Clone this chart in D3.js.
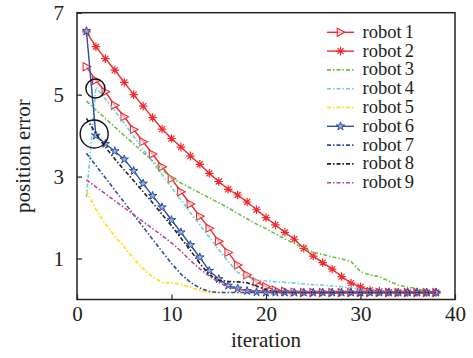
<!DOCTYPE html>
<html><head><meta charset="utf-8">
<script src="https://cdn.jsdelivr.net/npm/d3@7"></script>
<style>body{margin:0;background:#fff}svg{display:block}</style>
</head><body><svg id="c" width="473" height="358"></svg>
<script>
const iterations = [1,2,3,4,5,6,7,8,9,10,11,12,13,14,15,16,17,18,19,20,21,22,23,24,25,26,27,28,29,30,31,32,33,34,35,36,37,38];
const robot1 = [5.68,5.35,5.07,4.74,4.46,4.15,3.85,3.55,3.24,2.95,2.63,2.33,2.03,1.74,1.42,1.15,0.84,0.6,0.43,0.31,0.23,0.2,0.18,0.17,0.17,0.17,0.17,0.17,0.17,0.17,0.17,0.17,0.17,0.17,0.17,0.17,0.17,0.17];
const robot2 = [6.53,6.17,5.88,5.6,5.3,5.0,4.72,4.44,4.16,3.93,3.72,3.5,3.3,3.08,2.88,2.69,2.55,2.38,2.19,2.0,1.82,1.64,1.47,1.25,1.06,0.9,0.74,0.56,0.4,0.31,0.23,0.2,0.18,0.17,0.17,0.17,0.17,0.17];
const robot3 = [4.84,4.63,4.42,4.21,4.0,3.8,3.59,3.38,3.17,2.97,2.84,2.72,2.6,2.48,2.36,2.24,2.1,1.97,1.84,1.73,1.6,1.48,1.37,1.25,1.15,1.1,1.04,0.99,0.93,0.68,0.6,0.56,0.45,0.35,0.3,0.27,0.19,0.17];
const robot4 = [2.5,5.18,4.9,4.6,4.3,3.98,3.67,3.36,3.05,2.74,2.43,2.12,1.82,1.52,1.22,0.93,0.66,0.55,0.48,0.45,0.43,0.42,0.4,0.38,0.36,0.35,0.33,0.31,0.28,0.25,0.22,0.2,0.19,0.18,0.17,0.17,0.17,0.17];
const robot5 = [2.65,2.2,1.85,1.55,1.28,1.0,0.75,0.55,0.42,0.4,0.37,0.3,0.22,0.17,0.17,0.17,0.17,0.17,0.17,0.17,0.17,0.17,0.17,0.17,0.17,0.17,0.17,0.17,0.17,0.17,0.17,0.17,0.17,0.17,0.17,0.17,0.17,0.17];
const robot6 = [6.55,4.0,3.8,3.62,3.42,3.14,2.83,2.53,2.25,1.94,1.64,1.33,1.03,0.7,0.5,0.34,0.27,0.21,0.18,0.17,0.17,0.17,0.17,0.17,0.17,0.17,0.17,0.17,0.17,0.17,0.17,0.17,0.17,0.17,0.17,0.17,0.17,0.17];
const robot7 = [3.57,3.27,2.97,2.67,2.37,2.07,1.77,1.47,1.17,0.88,0.62,0.42,0.28,0.2,0.17,0.17,0.17,0.17,0.17,0.17,0.17,0.17,0.17,0.17,0.17,0.17,0.17,0.17,0.17,0.17,0.17,0.17,0.17,0.17,0.17,0.17,0.17,0.17];
const robot8 = [4.42,4.05,3.72,3.43,3.16,2.9,2.63,2.36,2.08,1.8,1.5,1.2,0.88,0.6,0.47,0.44,0.43,0.41,0.33,0.24,0.19,0.17,0.17,0.17,0.17,0.17,0.17,0.17,0.17,0.17,0.17,0.17,0.17,0.17,0.17,0.17,0.17,0.17];
const robot9 = [2.92,2.75,2.58,2.41,2.24,2.07,1.9,1.73,1.56,1.38,1.18,0.95,0.75,0.57,0.42,0.3,0.25,0.22,0.2,0.19,0.19,0.19,0.19,0.19,0.19,0.19,0.19,0.19,0.19,0.19,0.19,0.19,0.19,0.19,0.19,0.19,0.19,0.19];
const seriesNames = ["robot 1","robot 2","robot 3","robot 4","robot 5","robot 6","robot 7","robot 8","robot 9"];
const xTicks = [0,10,20,30,40];
const yTicks = [1,3,5,7];
const circleMarks = [[1.95,5.15,9.5],[1.82,4.04,14]];

const colors = ["#ee2b2f","#ee2b2f","#6cbf45","#6ccfdc","#fde000","#2c4ea3","#2c4ea3","#222222","#b8489d"];
const markers = ["tri","ast",null,null,null,"star",null,null,null];
const dashes = [null,null,"4,2,1.5,2","4,2,1.5,2","4,2,1.5,2",null,"4,2,1.5,2","4,2,1.5,2","4,2,1.5,2"];
const data = [robot1,robot2,robot3,robot4,robot5,robot6,robot7,robot8,robot9];
const FONT = "'Liberation Serif','Times New Roman',Times,serif";

const svg = d3.select("#c");
const m = {l:77,t:12.7,r:455,b:299.5};
const x = d3.scaleLinear().domain([0,40]).range([m.l,m.r]);
const y = d3.scaleLinear().domain([0,7]).range([m.b,m.t]);

function markerPath(type){
  if(type==="tri") return "M-3.3,-4L4.3,0L-3.3,4Z";
  if(type==="ast") return "M-4.3,0L4.3,0M0,-4.3L0,4.3M-3,-3L3,3M-3,3L3,-3";
  if(type==="star") return d3.symbol(d3.symbolStar,22)();
}
function drawMarker(g,type,col){
  if(type==="tri") g.append("path").attr("d",markerPath(type)).attr("fill","#fff").attr("fill-opacity",0.6).attr("stroke",col).attr("stroke-width",1.1);
  if(type==="ast") g.append("path").attr("d",markerPath(type)).attr("fill","none").attr("stroke",col).attr("stroke-width",1.2);
  if(type==="star") g.append("path").attr("d",markerPath(type)).attr("fill","#9ab2e0").attr("stroke",col).attr("stroke-width",1);
}

const line = d3.line().x((d,i)=>x(iterations[i])).y(d=>y(d));
const plot = svg.append("g");
data.forEach((vals,k)=>{
  const p = plot.append("path").attr("d",line(vals)).attr("fill","none").attr("stroke",colors[k]).attr("stroke-width",1.4);
  if(dashes[k]) p.attr("stroke-dasharray",dashes[k]).attr("stroke-width",1.6);
  if(markers[k]){
    vals.forEach((v,i)=>{
      const g = plot.append("g").attr("transform",`translate(${x(iterations[i])},${y(v)})`);
      drawMarker(g,markers[k],colors[k]);
    });
  }
});

circleMarks.forEach(c=>{
  svg.append("circle").attr("cx",x(c[0])).attr("cy",y(c[1])).attr("r",c[2]).attr("fill","none").attr("stroke","#111").attr("stroke-width",1.4);
});

svg.append("rect").attr("x",m.l).attr("y",m.t).attr("width",m.r-m.l).attr("height",m.b-m.t).attr("fill","none").attr("stroke","#222").attr("stroke-width",1.5);

const xAxis = d3.axisBottom(x).tickValues(xTicks).tickFormat(d3.format("d")).tickSizeInner(-5).tickSizeOuter(0).tickPadding(7);
const gx = svg.append("g").attr("transform",`translate(0,${m.b})`).call(xAxis);
gx.select(".domain").remove();
gx.selectAll("line").attr("stroke","#222").attr("stroke-width",1.2);
gx.selectAll("text").style("font-family",FONT).style("font-size","21px").attr("fill","#222");
const yAxis = d3.axisLeft(y).tickValues(yTicks).tickFormat(d3.format("d")).tickSizeInner(-5).tickSizeOuter(0).tickPadding(13);
const gy = svg.append("g").attr("transform",`translate(${m.l},0)`).call(yAxis);
gy.select(".domain").remove();
gy.selectAll("line").attr("stroke","#222").attr("stroke-width",1.2);
gy.selectAll("text").style("font-family",FONT).style("font-size","21px").attr("fill","#222");

svg.append("text").attr("x",(m.l+m.r)/2).attr("y",347).attr("text-anchor","middle").style("font-family",FONT).style("font-size","21px").attr("fill","#222").text("iteration");
svg.append("text").attr("transform",`translate(30,${(m.t+m.b)/2}) rotate(-90)`).attr("text-anchor","middle").style("font-family",FONT).style("font-size","21px").attr("fill","#222").text("position error");

const lg = svg.append("g");
seriesNames.forEach((n,k)=>{
  const yy = 32.3 + k*18.8;
  const l = lg.append("line").attr("x1",327).attr("x2",354).attr("y1",yy).attr("y2",yy).attr("stroke",colors[k]).attr("stroke-width",1.4);
  if(dashes[k]) l.attr("stroke-dasharray",dashes[k]).attr("stroke-width",1.6);
  if(markers[k]){ const g = lg.append("g").attr("transform",`translate(340.5,${yy})`); drawMarker(g,markers[k],colors[k]); }
  lg.append("text").attr("x",362.5).attr("y",yy+5.5).style("font-family",FONT).style("font-size","18.5px").style("word-spacing","-1.5px").attr("fill","#222").text(n);
});
</script></body></html>
